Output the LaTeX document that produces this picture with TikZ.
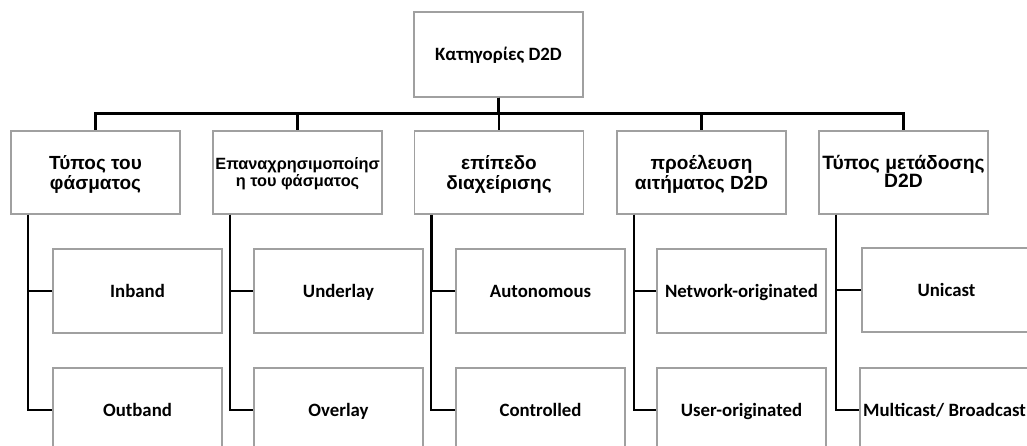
\documentclass[tikz,border=0pt]{standalone}
\usepackage{fontspec}
\setmainfont{Carlito}
\newfontfamily\headfont{Liberation Sans}
\usetikzlibrary{calc}
\definecolor{boxgray}{HTML}{A0A0A0}
\begin{document}
\begin{tikzpicture}[x=1pt,y=-1pt,
  box/.style={draw=boxgray, line width=1.4pt, fill=white, inner sep=0pt, align=center, text depth=0pt},
  rootbox/.style={box, minimum width=169pt, minimum height=85pt, text height=12.1pt, font=\bfseries\fontsize{18.8}{21}\selectfont},
  catbox/.style={box, minimum width=169pt, minimum height=83pt, text height=35pt, font=\headfont\bfseries\fontsize{19}{20}\selectfont},
  leafbox/.style={box, minimum width=169pt, minimum height=84pt, text height=12.1pt, font=\bfseries\fontsize{18.8}{21}\selectfont},
  link/.style={line width=2.5pt, black},
  branch/.style={line width=2.1pt, black}]
\clip (0,0) rectangle (1027,446);

% root
\node[rootbox] (root) at (498.5,54.5) {Κατηγορίες D2D};

% categories
\node[catbox] (c1) at (95.5,172.5) {Τύπος του\\φάσματος};
\node[catbox, text height=28pt, font=\headfont\bfseries\fontsize{16.3}{17}\selectfont] (c2) at (297.5,172.5) {Επαναχρησιμοποίησ\\η του φάσματος};
\node[catbox] (c3) at (499,172.5) {επίπεδο\\διαχείρισης};
\node[catbox] (c4) at (701.5,172.5) {προέλευση\\αιτήματος D2D};
\node[catbox, text height=30pt, font=\headfont\bfseries\fontsize{19.3}{16}\selectfont] (c5) at (903.5,172.5) {Τύπος μετάδοσης\\D2D};

% leaves
\node[leafbox] (l1a) at (137.5,291) {Inband};
\node[leafbox] (l1b) at (137.5,410) {Outband};
\node[leafbox] (l2a) at (338.5,291) {Underlay};
\node[leafbox] (l2b) at (338.5,410) {Overlay};
\node[leafbox] (l3a) at (540.5,291) {Autonomous};
\node[leafbox] (l3b) at (540.5,410) {Controlled};
\node[leafbox] (l4a) at (741.5,291) {Network-originated};
\node[leafbox] (l4b) at (741.5,410) {User-originated};
\node[leafbox] (l5a) at (946.5,290) {Unicast};
\node[leafbox] (l5b) at (944.5,410) {Multicast/ Broadcast};

% root to categories
\foreach \c in {c1,c2,c3,c4,c5}
  \draw[link] (root.south) -- ++(0,16) -| (\c.north);

% categories to leaves
\foreach \i in {1,...,5} {
  \coordinate (s\i) at ($(c\i.south west)+(17.5,0)$);
  \draw[link] (s\i) |- (l\i a.west);
  \draw[branch] (s\i) |- (l\i b.west);
}
\end{tikzpicture}
\end{document}
